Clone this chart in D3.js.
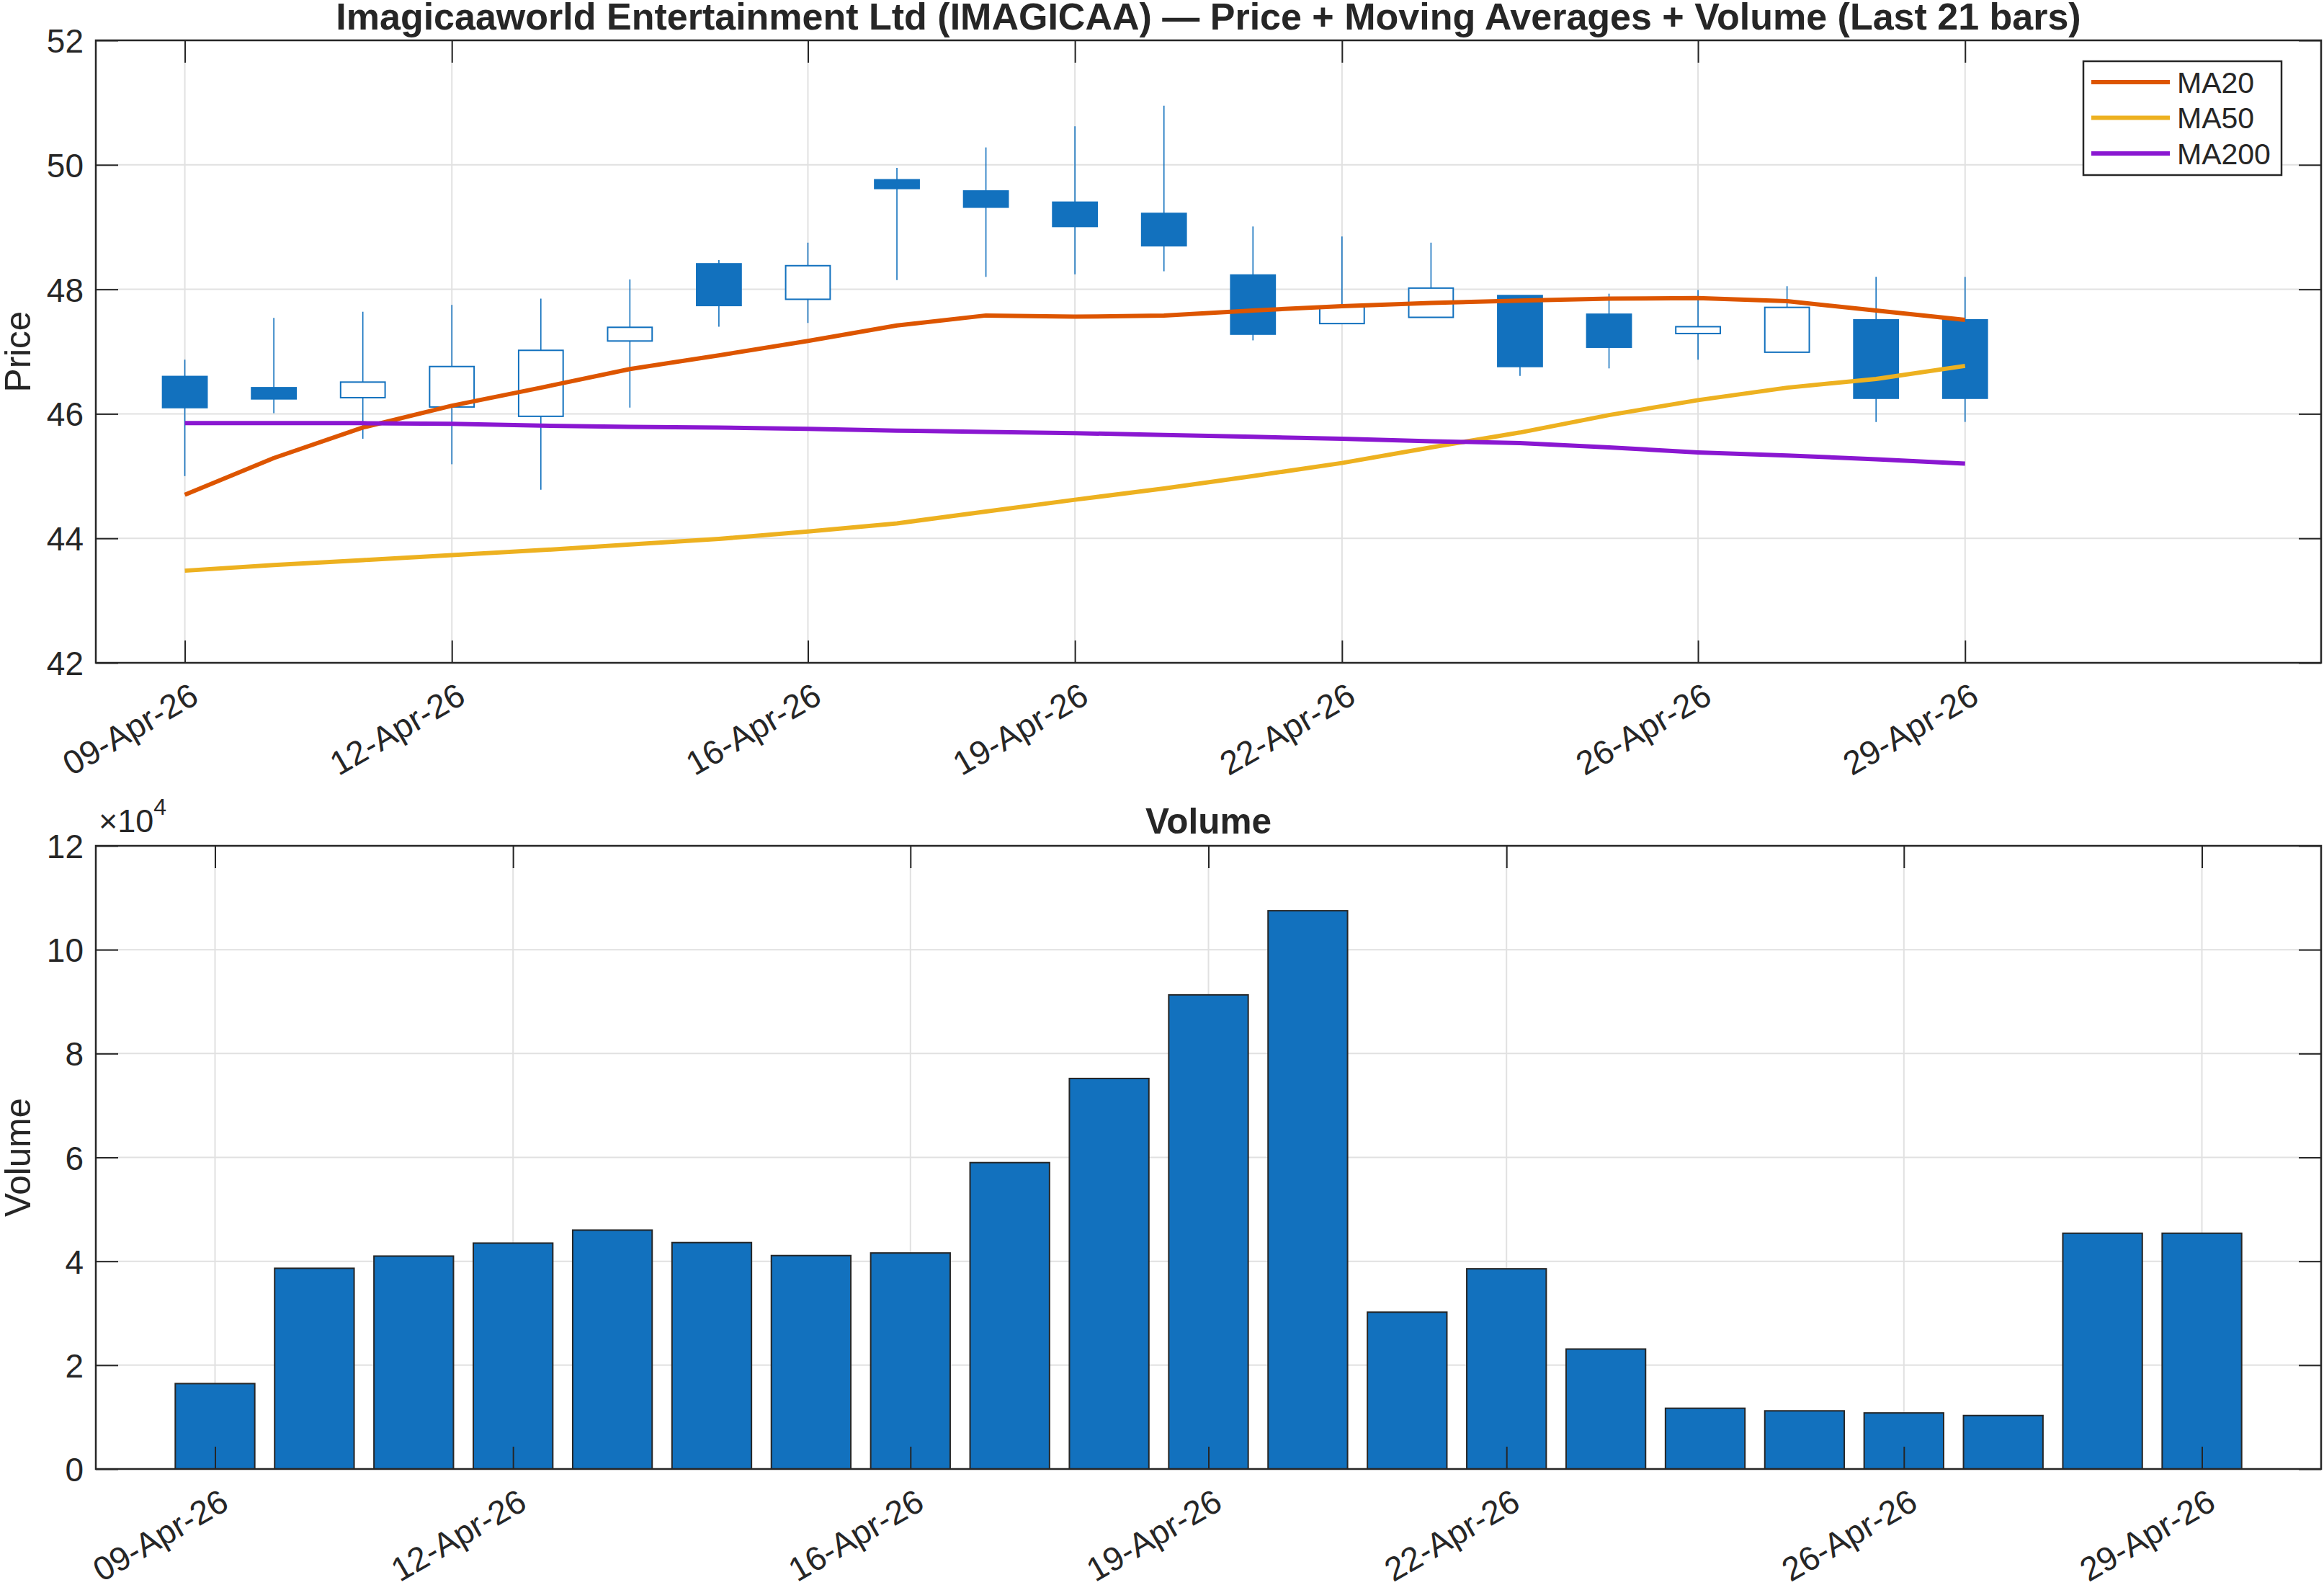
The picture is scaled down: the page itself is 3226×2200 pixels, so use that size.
<!DOCTYPE html>
<meta charset="utf-8">
<script src="https://d3js.org/d3.v7.min.js"></script>
<style>
  body { margin: 0; background: #fff; }
  text { font-family: "Liberation Sans", Arial, Helvetica, sans-serif; fill: #262626; }
</style>
<div id="chart"></div>
<script>
// ---- data ----
const dates = ["2026-04-09","2026-04-10","2026-04-11","2026-04-12","2026-04-13","2026-04-14","2026-04-15",
  "2026-04-16","2026-04-17","2026-04-18","2026-04-19","2026-04-20","2026-04-21","2026-04-22",
  "2026-04-23","2026-04-24","2026-04-25","2026-04-26","2026-04-27","2026-04-28","2026-04-29"];
const openP  = [46.60,46.42,46.26,46.11,45.96,47.17,48.41,47.84,49.76,49.58,49.40,49.22,48.23,47.45,47.55,47.90,47.60,47.29,46.99,47.51,47.51];
const highP  = [46.87,47.54,47.64,47.75,47.85,48.16,48.47,48.75,49.95,50.28,50.62,50.95,49.01,48.85,48.75,47.90,47.93,47.99,48.05,48.20,48.20];
const lowP   = [45.00,46.01,45.60,45.19,44.78,46.10,47.40,47.46,48.15,48.20,48.24,48.29,47.18,47.45,47.55,46.61,46.73,46.87,46.99,45.87,45.87];
const closeP = [46.10,46.24,46.51,46.76,47.02,47.39,47.74,48.38,49.62,49.32,49.01,48.70,47.28,47.72,48.02,46.76,47.07,47.40,47.71,46.25,46.25];
const ma20   = [44.70,45.29,45.78,46.13,46.42,46.72,46.94,47.17,47.42,47.58,47.56,47.58,47.66,47.73,47.78,47.82,47.85,47.86,47.81,47.66,47.51];
const ma50   = [43.48,43.57,43.65,43.73,43.81,43.90,43.99,44.11,44.24,44.43,44.62,44.80,45.00,45.21,45.46,45.70,45.98,46.22,46.42,46.56,46.77];
const ma200  = [45.85,45.85,45.85,45.84,45.81,45.79,45.78,45.76,45.73,45.71,45.69,45.66,45.63,45.60,45.56,45.53,45.46,45.38,45.33,45.27,45.20];
const volume = [16450,38650,41000,43500,46000,43600,41100,41600,59000,75200,91300,107500,30200,38550,23100,11700,11200,10800,10300,45400,45400];
const tickDates = ["2026-04-09","2026-04-12","2026-04-16","2026-04-19","2026-04-22","2026-04-26","2026-04-29"];
const priceTicks = [42,44,46,48,50,52];
const volumeTicks = [0,2,4,6,8,10,12]; // x 10^4
const maNames = ["MA20","MA50","MA200"];
const maColors = ["#DD5500","#EDB120","#8A17D1"];

const W = 3226, H = 2200;
const blue = "#1271BE", ink = "#262626", gridCol = "#e1e1e1";
const parse = d3.timeParse("%Y-%m-%d");
const fmt = d3.timeFormat("%d-%b-%y");
const day = 864e5;
const t = dates.map(parse);
const ticksT = tickDates.map(parse);

const svg = d3.select("#chart").append("svg")
  .attr("width", W).attr("height", H)
  .style("background", "#fff");

const boxP = {x0: 133, x1: 3222, y0: 56, y1: 920};
const boxV = {x0: 133, x1: 3222, y0: 1174, y1: 2039};

const xP = d3.scaleTime()
  .domain([new Date(+t[0] - day), new Date(+t[20] + 4 * day)])
  .range([boxP.x0, boxP.x1]);
const yP = d3.scaleLinear().domain([42, 52]).range([boxP.y1, boxP.y0]);
const xV = d3.scaleTime()
  .domain([new Date(+t[0] - 1.2 * day), new Date(+t[20] + 1.2 * day)])
  .range([boxV.x0, boxV.x1]);
const yV = d3.scaleLinear().domain([0, 12e4]).range([boxV.y1, boxV.y0]);

function grid(g, x, y, box, yt) {
  g.selectAll(".gx").data(ticksT).join("line")
    .attr("x1", d => x(d)).attr("x2", d => x(d))
    .attr("y1", box.y0).attr("y2", box.y1)
    .attr("stroke", gridCol).attr("stroke-width", 2);
  g.selectAll(".gy").data(yt).join("line")
    .attr("x1", box.x0).attr("x2", box.x1)
    .attr("y1", d => y(d)).attr("y2", d => y(d))
    .attr("stroke", gridCol).attr("stroke-width", 2);
}

function frame(g, x, y, box, yt, yfmt) {
  const tl = 31;
  const ax = g.append("g").attr("transform", `translate(0,${box.y1})`)
    .call(d3.axisBottom(x).tickValues(ticksT).tickFormat(fmt).tickSize(-tl).tickPadding(0));
  ax.select(".domain").remove();
  ax.selectAll("line").attr("stroke", ink).attr("stroke-width", 2);
  ax.selectAll("text")
    .attr("text-anchor", "end")
    .attr("font-size", 46.5)
    .attr("y", 0)
    .attr("transform", "translate(5,26) rotate(-30)")
    .attr("dy", "0.7em");
  const axT = g.append("g").attr("transform", `translate(0,${box.y0})`)
    .call(d3.axisTop(x).tickValues(ticksT).tickFormat("").tickSize(-tl));
  axT.select(".domain").remove();
  axT.selectAll("line").attr("stroke", ink).attr("stroke-width", 2);

  const ay = g.append("g").attr("transform", `translate(${box.x0},0)`)
    .call(d3.axisLeft(y).tickValues(yt).tickFormat(yfmt).tickSize(-tl).tickPadding(17));
  ay.select(".domain").remove();
  ay.selectAll("line").attr("stroke", ink).attr("stroke-width", 2);
  ay.selectAll("text").attr("font-size", 46).attr("dy", "0.36em");
  const ayR = g.append("g").attr("transform", `translate(${box.x1},0)`)
    .call(d3.axisRight(y).tickValues(yt).tickFormat("").tickSize(-tl));
  ayR.select(".domain").remove();
  ayR.selectAll("line").attr("stroke", ink).attr("stroke-width", 2);

  g.append("rect")
    .attr("x", box.x0).attr("y", box.y0)
    .attr("width", box.x1 - box.x0).attr("height", box.y1 - box.y0)
    .attr("fill", "none").attr("stroke", ink).attr("stroke-width", 2.5);
}

// ---------- price panel ----------
const gP = svg.append("g");
grid(gP, xP, yP, boxP, priceTicks);

const bodyW = xP(new Date(+t[0] + 0.25 * day)) - xP(new Date(+t[0] - 0.25 * day));
const candles = gP.selectAll(".candle").data(d3.range(dates.length)).join("g");
candles.append("line")
  .attr("x1", i => xP(t[i])).attr("x2", i => xP(t[i]))
  .attr("y1", i => yP(highP[i])).attr("y2", i => yP(lowP[i]))
  .attr("stroke", blue).attr("stroke-width", 1.6);
candles.append("rect")
  .attr("x", i => xP(t[i]) - bodyW / 2)
  .attr("width", bodyW)
  .attr("y", i => yP(Math.max(openP[i], closeP[i])))
  .attr("height", i => Math.max(1, Math.abs(yP(openP[i]) - yP(closeP[i]))))
  .attr("fill", i => closeP[i] < openP[i] ? blue : "#fff")
  .attr("stroke", blue).attr("stroke-width", 2);

const maSeries = [ma20, ma50, ma200];
const line = d3.line().x((d, i) => xP(t[i])).y(d => yP(d));
maSeries.forEach((s, k) => {
  gP.append("path").datum(s)
    .attr("d", line)
    .attr("fill", "none")
    .attr("stroke", maColors[k])
    .attr("stroke-width", 6)
    .attr("stroke-linejoin", "round");
});

frame(gP, xP, yP, boxP, priceTicks, d3.format("d"));

svg.append("text")
  .attr("x", (boxP.x0 + boxP.x1) / 2).attr("y", 41)
  .attr("text-anchor", "middle")
  .attr("font-size", 52).attr("font-weight", "bold")
  .text("Imagicaaworld Entertainment Ltd (IMAGICAA) \u2014 Price + Moving Averages + Volume (Last 21 bars)");

svg.append("text")
  .attr("transform", `translate(42,${(boxP.y0 + boxP.y1) / 2}) rotate(-90)`)
  .attr("text-anchor", "middle")
  .attr("font-size", 49.5)
  .text("Price");

// legend
const leg = svg.append("g");
leg.append("rect")
  .attr("x", 2892).attr("y", 85).attr("width", 275).attr("height", 158)
  .attr("fill", "#fff").attr("stroke", ink).attr("stroke-width", 2.5);
maNames.forEach((n, k) => {
  const cy = 114 + k * 49.5;
  leg.append("line")
    .attr("x1", 2903).attr("x2", 3012).attr("y1", cy).attr("y2", cy)
    .attr("stroke", maColors[k]).attr("stroke-width", 6);
  leg.append("text")
    .attr("x", 3022).attr("y", cy).attr("dy", "0.36em")
    .attr("font-size", 41).text(n);
});

// ---------- volume panel ----------
const gV = svg.append("g");
grid(gV, xV, yV, boxV, volumeTicks.map(v => v * 1e4));

const barW = xV(new Date(+t[0] + 0.4 * day)) - xV(new Date(+t[0] - 0.4 * day));
gV.selectAll(".bar").data(volume).join("rect")
  .attr("x", (d, i) => xV(t[i]) - barW / 2)
  .attr("width", barW)
  .attr("y", d => yV(d))
  .attr("height", d => yV(0) - yV(d))
  .attr("fill", blue)
  .attr("stroke", ink).attr("stroke-width", 2);

frame(gV, xV, yV, boxV, volumeTicks.map(v => v * 1e4), d => d / 1e4);

const ex = svg.append("text").attr("x", 137).attr("y", 1155).attr("font-size", 45);
ex.append("tspan").text("\u00d710");
ex.append("tspan").attr("font-size", 32).attr("dy", -24).text("4");

svg.append("text")
  .attr("x", (boxV.x0 + boxV.x1) / 2).attr("y", 1157)
  .attr("text-anchor", "middle")
  .attr("font-size", 49.5).attr("font-weight", "bold")
  .text("Volume");

svg.append("text")
  .attr("transform", `translate(42,${(boxV.y0 + boxV.y1) / 2}) rotate(-90)`)
  .attr("text-anchor", "middle")
  .attr("font-size", 49.5)
  .text("Volume");
</script>
